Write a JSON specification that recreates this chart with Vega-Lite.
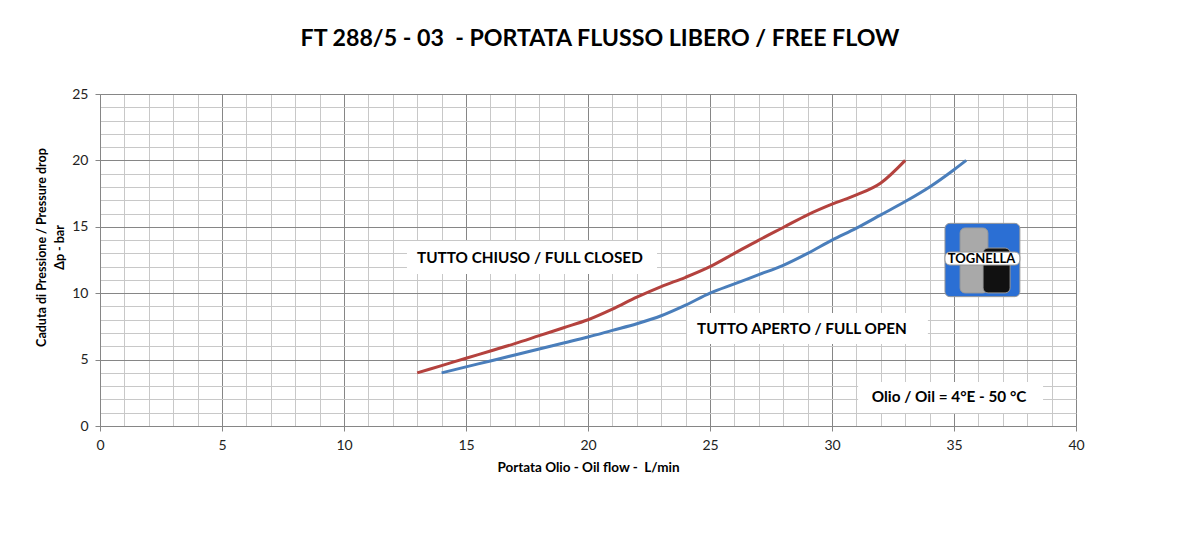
{
  "$schema": "https://vega.github.io/schema/vega-lite/v6.json",
  "width": 976,
  "height": 332,
  "autosize": {"type": "none"},
  "padding": {"left": 100, "top": 94, "right": 115, "bottom": 108},
  "background": "white",
  "config": {"view": {"stroke": null}, "font": "Lato"},
  "title": {
    "text": "FT 288/5 - 03 \u00a0- PORTATA FLUSSO LIBERO / FREE FLOW",
    "font": "Lato",
    "fontSize": 23.2,
    "fontWeight": "bold",
    "color": "#000000",
    "anchor": "middle",
    "frame": "group",
    "dx": 12,
    "baseline": "alphabetic",
    "offset": 18
  },
  "datasets": {
    "curves": [
      {"serie": "TUTTO CHIUSO", "x": 13, "y": 4.0},
      {"serie": "TUTTO CHIUSO", "x": 14, "y": 4.55},
      {"serie": "TUTTO CHIUSO", "x": 15, "y": 5.1},
      {"serie": "TUTTO CHIUSO", "x": 16, "y": 5.65},
      {"serie": "TUTTO CHIUSO", "x": 17, "y": 6.2},
      {"serie": "TUTTO CHIUSO", "x": 18, "y": 6.8},
      {"serie": "TUTTO CHIUSO", "x": 19, "y": 7.4},
      {"serie": "TUTTO CHIUSO", "x": 20, "y": 8.0},
      {"serie": "TUTTO CHIUSO", "x": 21, "y": 8.8},
      {"serie": "TUTTO CHIUSO", "x": 22, "y": 9.7},
      {"serie": "TUTTO CHIUSO", "x": 23, "y": 10.5},
      {"serie": "TUTTO CHIUSO", "x": 24, "y": 11.2},
      {"serie": "TUTTO CHIUSO", "x": 25, "y": 12.0},
      {"serie": "TUTTO CHIUSO", "x": 26, "y": 13.0},
      {"serie": "TUTTO CHIUSO", "x": 27, "y": 14.0},
      {"serie": "TUTTO CHIUSO", "x": 28, "y": 14.95},
      {"serie": "TUTTO CHIUSO", "x": 29, "y": 15.9},
      {"serie": "TUTTO CHIUSO", "x": 30, "y": 16.7},
      {"serie": "TUTTO CHIUSO", "x": 31, "y": 17.4},
      {"serie": "TUTTO CHIUSO", "x": 32, "y": 18.3},
      {"serie": "TUTTO CHIUSO", "x": 33, "y": 20.0},
      {"serie": "TUTTO APERTO", "x": 14, "y": 4.0},
      {"serie": "TUTTO APERTO", "x": 15, "y": 4.45},
      {"serie": "TUTTO APERTO", "x": 16, "y": 4.9},
      {"serie": "TUTTO APERTO", "x": 17, "y": 5.35},
      {"serie": "TUTTO APERTO", "x": 18, "y": 5.8},
      {"serie": "TUTTO APERTO", "x": 19, "y": 6.25},
      {"serie": "TUTTO APERTO", "x": 20, "y": 6.7},
      {"serie": "TUTTO APERTO", "x": 21, "y": 7.2},
      {"serie": "TUTTO APERTO", "x": 22, "y": 7.7},
      {"serie": "TUTTO APERTO", "x": 23, "y": 8.3},
      {"serie": "TUTTO APERTO", "x": 24, "y": 9.1},
      {"serie": "TUTTO APERTO", "x": 25, "y": 10.0},
      {"serie": "TUTTO APERTO", "x": 26, "y": 10.7},
      {"serie": "TUTTO APERTO", "x": 27, "y": 11.4},
      {"serie": "TUTTO APERTO", "x": 28, "y": 12.1},
      {"serie": "TUTTO APERTO", "x": 29, "y": 13.0},
      {"serie": "TUTTO APERTO", "x": 30, "y": 14.0},
      {"serie": "TUTTO APERTO", "x": 31, "y": 14.9},
      {"serie": "TUTTO APERTO", "x": 32, "y": 15.9},
      {"serie": "TUTTO APERTO", "x": 33, "y": 16.9},
      {"serie": "TUTTO APERTO", "x": 34, "y": 18.0},
      {"serie": "TUTTO APERTO", "x": 35, "y": 19.3},
      {"serie": "TUTTO APERTO", "x": 35.5, "y": 20.0}
    ],
    "boxes": [
      {"x": 12.58, "x2": 22.83, "y": 13.93, "y2": 11.45},
      {"x": 24.06, "x2": 33.93, "y": 8.51, "y2": 6.17},
      {"x": 31.07, "x2": 38.65, "y": 3.31, "y2": 0.98}
    ],
    "labels": [
      {"x": 17.62, "y": 12.67, "label": "TUTTO CHIUSO / FULL CLOSED"},
      {"x": 28.77, "y": 7.3, "label": "TUTTO APERTO / FULL OPEN"},
      {"x": 34.8, "y": 2.2, "label": "Olio / Oil = 4°E - 50 °C"}
    ],
    "logo": [
      {"part": "base", "x": 34.63, "x2": 37.7, "y": 15.26, "y2": 9.74},
      {"part": "stripes", "x": 35.25, "x2": 36.39, "y": 14.91, "y2": 10.02},
      {"part": "dark", "x": 36.19, "x2": 37.3, "y": 13.4, "y2": 10.02},
      {"part": "band", "x": 34.63, "x2": 37.7, "y": 13.1, "y2": 12.12}
    ],
    "logoText": [
      {"x": 36.13, "y": 12.6, "label": "TOGNELLA"}
    ]
  },
  "encoding": {
    "x": {
      "field": "x",
      "type": "quantitative",
      "scale": {"domain": [0, 40], "nice": false, "zero": false},
      "axis": {
        "values": [0,1,2,3,4,5,6,7,8,9,10,11,12,13,14,15,16,17,18,19,20,21,22,23,24,25,26,27,28,29,30,31,32,33,34,35,36,37,38,39,40],
        "title": "Portata Olio - Oil flow - \u00a0L/min",
        "titleFont": "Lato",
        "titleFontWeight": "bold",
        "titleFontSize": 13.5,
        "titleColor": "#000000",
        "titlePadding": 8,
        "labelExpr": "datum.value % 5 === 0 ? datum.label : ''",
        "labelFont": "Lato",
        "labelFontSize": 14,
        "labelColor": "#222222",
        "labelPadding": 7,
        "labelFlush": false,
        "labelOverlap": false,
        "tickSize": 5,
        "tickColor": {"condition": {"test": "datum.value % 5 === 0", "value": "#868686"}, "value": "transparent"},
        "grid": true,
        "gridColor": {"condition": {"test": "datum.value % 5 === 0", "value": "#868686"}, "value": "#c8c8c8"},
        "gridOpacity": 1,
        "domainColor": "#868686"
      }
    },
    "y": {
      "field": "y",
      "type": "quantitative",
      "scale": {"domain": [0, 25], "nice": false, "zero": false},
      "axis": {
        "values": [0,1,2,3,4,5,6,7,8,9,10,11,12,13,14,15,16,17,18,19,20,21,22,23,24,25],
        "title": ["Caduta di Pressione / Pressure drop", "Δp - bar"],
        "titleFont": "Lato",
        "titleFontWeight": "bold",
        "titleFontSize": 12.5,
        "titleColor": "#000000",
        "titleLineHeight": 18,
        "titlePadding": 5,
        "titleY": 153,
        "labelExpr": "datum.value % 5 === 0 ? datum.label : ''",
        "labelFont": "Lato",
        "labelFontSize": 14,
        "labelColor": "#222222",
        "labelPadding": 7,
        "labelFlush": false,
        "labelOverlap": false,
        "tickSize": 5,
        "tickColor": {"condition": {"test": "datum.value % 5 === 0", "value": "#868686"}, "value": "transparent"},
        "grid": true,
        "gridColor": {"condition": {"test": "datum.value % 5 === 0", "value": "#868686"}, "value": "#c8c8c8"},
        "gridOpacity": 1,
        "domainColor": "#868686"
      }
    }
  },
  "layer": [
    {
      "data": {"name": "curves"},
      "mark": {"type": "line", "interpolate": "monotone", "strokeWidth": 3},
      "encoding": {
        "color": {
          "field": "serie",
          "type": "nominal",
          "scale": {"domain": ["TUTTO CHIUSO", "TUTTO APERTO"], "range": ["#B4423E", "#4A7EBB"]},
          "legend": null
        }
      }
    },
    {
      "data": {"name": "boxes"},
      "mark": {"type": "rect", "fill": "#ffffff", "stroke": null},
      "encoding": {
        "x2": {"field": "x2"},
        "y2": {"field": "y2"}
      }
    },
    {
      "data": {"name": "labels"},
      "mark": {"type": "text", "font": "Lato", "fontSize": 15.3, "fontWeight": "bold", "color": "#000000", "align": "center", "baseline": "middle"},
      "encoding": {
        "text": {"field": "label", "type": "nominal"}
      }
    },
    {
      "data": {"name": "logo"},
      "mark": {"type": "rect", "cornerRadius": 5, "stroke": "#9a9a9a", "strokeWidth": 1},
      "encoding": {
        "x2": {"field": "x2"},
        "y2": {"field": "y2"},
        "fill": {
          "field": "part",
          "type": "nominal",
          "scale": {"domain": ["base", "stripes", "dark", "band"], "range": ["#2B6FD4", "#A9A9A9", "#111111", "#FFFFFF"]},
          "legend": null
        }
      }
    },
    {
      "data": {"name": "logoText"},
      "mark": {"type": "text", "font": "Lato", "fontSize": 13, "fontWeight": "bold", "color": "#000000", "align": "center", "baseline": "middle"},
      "encoding": {
        "text": {"field": "label", "type": "nominal"}
      }
    }
  ]
}
